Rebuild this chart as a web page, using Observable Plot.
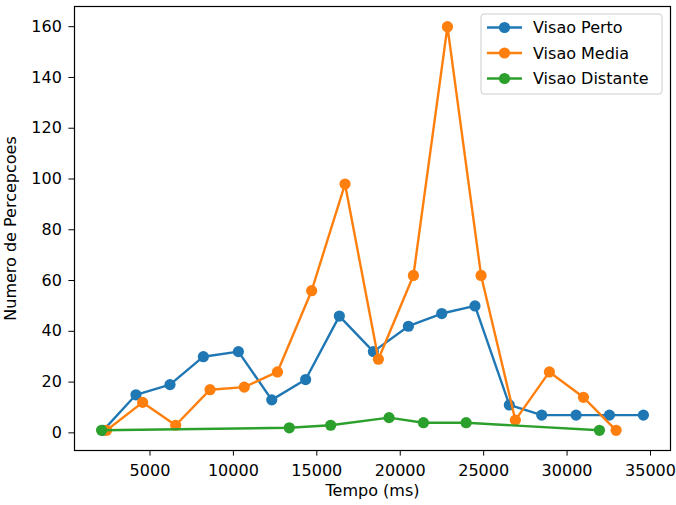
<!DOCTYPE html>
<html>
<head>
<meta charset="utf-8">
<script src="https://cdn.jsdelivr.net/npm/d3@7"></script>
<script src="https://cdn.jsdelivr.net/npm/@observablehq/plot@0.6"></script>
<style>
  html, body { margin: 0; padding: 0; background: #fff; }
  #chart svg { display: block; }
</style>
</head>
<body>
<div id="chart"></div>
<script>
// Perception counts over time (ms) for three viewing distances
const pertoTime = [2200, 4160, 6200, 8200, 10300, 12300, 14330, 16350, 18390, 20490, 22490, 24480, 26540, 28480, 30540, 32540, 34575];
const pertoCount = [1, 15, 19, 30, 32, 13, 21, 46, 32, 42, 47, 50, 11, 7, 7, 7, 7];

const mediaTime = [2400, 4560, 6540, 8600, 10650, 12640, 14690, 16690, 18690, 20790, 22830, 24845, 26900, 28940, 30980, 32940];
const mediaCount = [1, 12, 3, 17, 18, 24, 56, 98, 29, 62, 160, 62, 5, 24, 14, 1];

const distanteTime = [2100, 13350, 15830, 19330, 21390, 23950, 31940];
const distanteCount = [1, 2, 3, 6, 4, 4, 1];

const seriesNames = ["Visao Perto", "Visao Media", "Visao Distante"];
const seriesColors = ["#1f77b4", "#ff7f0e", "#2ca02c"];

const xTicks = [5000, 10000, 15000, 20000, 25000, 30000, 35000];
const yTicks = [0, 20, 40, 60, 80, 100, 120, 140, 160];

const xLabel = "Tempo (ms)";
const yLabel = "Numero de Percepcoes";

const rows = (times, counts) => times.map((t, i) => ({t, n: counts[i]}));
const series = [
  rows(pertoTime, pertoCount),
  rows(mediaTime, mediaCount),
  rows(distanteTime, distanteCount)
];

const LW = 2.4;   // line width
const R = 5.6;    // marker radius

// Legend box in the upper-right corner of the frame
function legendMark(index, scales, values, dimensions) {
  const {width, marginRight, marginTop} = dimensions;
  const boxW = 181, boxH = 80;
  const x0 = width - marginRight - 8 - boxW;
  const y0 = marginTop + 8;
  const g = d3.create("svg:g");
  g.append("rect")
    .attr("x", x0).attr("y", y0)
    .attr("width", boxW).attr("height", boxH)
    .attr("rx", 3).attr("ry", 3)
    .attr("fill", "rgba(255,255,255,0.8)")
    .attr("stroke", "#cccccc")
    .attr("stroke-width", 1);
  seriesNames.forEach((name, i) => {
    const cy = y0 + 13.5 + i * 25.5;
    g.append("line")
      .attr("x1", x0 + 6).attr("x2", x0 + 41)
      .attr("y1", cy).attr("y2", cy)
      .attr("stroke", seriesColors[i])
      .attr("stroke-width", LW);
    g.append("circle")
      .attr("cx", x0 + 23.5).attr("cy", cy).attr("r", R)
      .attr("fill", seriesColors[i]);
    g.append("text")
      .attr("x", x0 + 52).attr("y", cy)
      .attr("dy", "0.35em")
      .attr("text-anchor", "start")
      .attr("fill", "#000")
      .attr("font-size", 16)
      .text(name);
  });
  return g.node();
}

const seriesMarks = series.flatMap((data, i) => [
  Plot.line(data, {x: "t", y: "n", stroke: seriesColors[i], strokeWidth: LW}),
  Plot.dot(data, {x: "t", y: "n", fill: seriesColors[i], r: R, stroke: "none"})
]);

const chart = Plot.plot({
  width: 676,
  height: 505,
  marginLeft: 74,
  marginRight: 6,
  marginTop: 6,
  marginBottom: 55,
  style: {
    fontFamily: "'DejaVu Sans', sans-serif",
    fontSize: "16px",
    color: "#000",
    background: "#fff",
    overflow: "visible"
  },
  x: {
    domain: [476, 36199],
    ticks: xTicks,
    tickFormat: "d",
    tickSize: 5.6,
    tickPadding: 9,
    label: null
  },
  y: {
    domain: [-6.95, 167.95],
    ticks: yTicks,
    tickFormat: "d",
    tickSize: 5.6,
    tickPadding: 7,
    label: null
  },
  marks: [
    ...seriesMarks,
    Plot.frame({stroke: "#000", strokeWidth: 1.2}),
    Plot.text([xLabel], {frameAnchor: "bottom", lineAnchor: "middle", textAnchor: "middle", dy: 40, fontSize: 16, fill: "#000"}),
    Plot.text([yLabel], {frameAnchor: "left", lineAnchor: "middle", textAnchor: "middle", rotate: -90, dx: -64, fontSize: 16, fill: "#000"}),
    legendMark
  ]
});

document.getElementById("chart").appendChild(chart);
</script>
</body>
</html>
